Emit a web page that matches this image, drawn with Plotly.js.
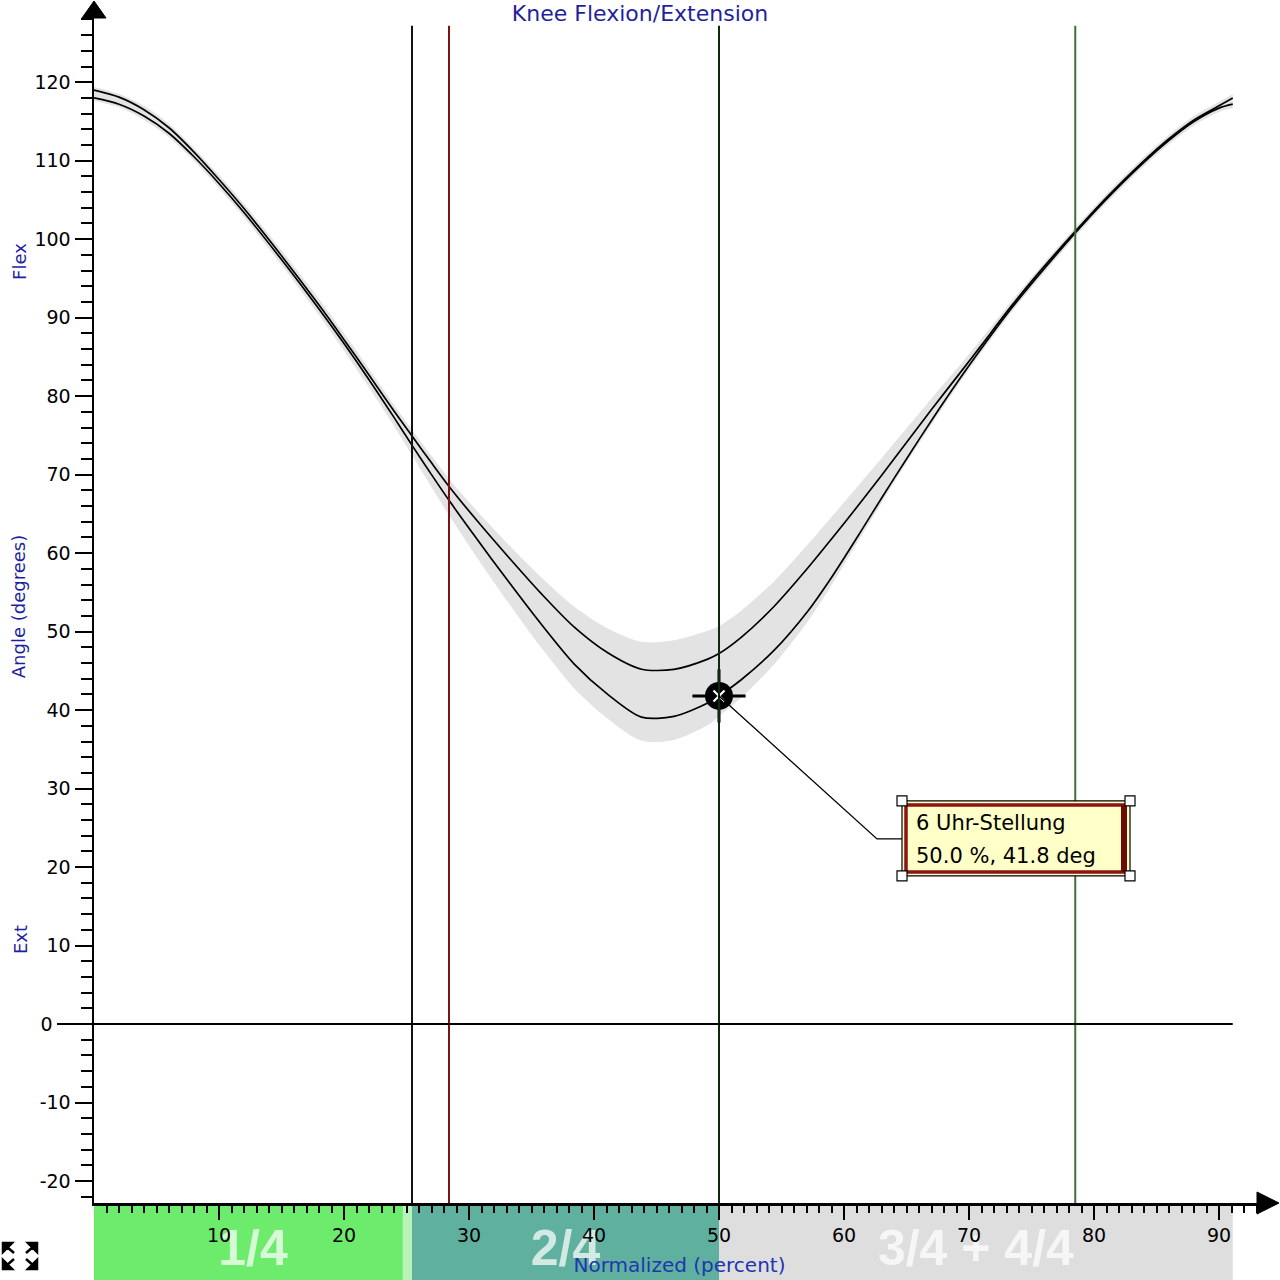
<!DOCTYPE html>
<html><head><meta charset="utf-8">
<script src="https://cdn.plot.ly/plotly-3.0.1.min.js"></script>
<style>html,body{margin:0;padding:0;background:#fff}#chart{width:1280px;height:1280px}</style>
</head><body><div id="chart"></div>
<script>
// ---------------- data ----------------
const pct = [0,2,4,6,8,10,12,15,18,20,22,24,25.5,27,28.5,30.4,33.1,35.8,38.4,41.1,43.8,46.4,49.1,50,51.8,54.4,57.1,59,61.4,63,65,67,69.3,71,73.4,76,78.5,81,83.8,86,88,90,91.1];
const kneeUpper = [119.0,118.1,116.5,114.2,111.1,107.6,103.9,97.9,91.6,87.2,82.7,78.1,74.8,71.5,68.3,64.6,59.6,54.8,50.6,47.3,45.2,45.2,46.5,47.2,49.3,53.2,58.1,61.8,66.6,69.9,74.1,78.3,83.0,86.5,91.5,96.5,101.0,105.3,109.7,112.8,115.2,117.0,118.0];
const kneeLower = [118.0,117.2,115.7,113.5,110.5,107.1,103.4,97.4,91.1,86.7,82.1,77.3,73.6,70.0,66.5,62.3,56.5,50.9,45.9,42.0,39.1,39.2,40.9,41.8,43.9,47.6,52.6,56.9,62.9,67.0,72.0,76.9,82.3,86.1,91.2,96.2,100.8,105.1,109.5,112.6,115.0,116.7,117.2];
const bandHigh = [119.4,118.5,117.0,114.7,111.6,108.2,104.5,98.6,92.4,88.0,83.5,78.9,75.6,72.4,69.3,65.8,61.2,56.9,53.2,50.4,48.7,48.9,50.1,50.7,52.7,56.4,61.1,64.6,69.1,72.1,75.9,79.7,84.0,87.3,92.1,97.0,101.5,105.8,110.2,113.3,115.7,117.5,118.5];
const bandLow = [117.6,116.8,115.2,113.0,110.0,106.5,102.8,96.7,90.3,85.8,81.1,76.2,72.3,68.4,64.6,60.0,53.8,47.9,42.8,38.9,36.1,36.2,38.1,39.2,41.6,45.8,51.3,55.9,62.2,66.4,71.5,76.4,81.8,85.6,90.7,95.7,100.3,104.6,109.0,112.1,114.5,116.2,116.7];
const eventLines = [25.44, 28.4, 50.0, 78.5];
const phaseStart = [0, 25.44, 50.0];
const phaseEnd = [25.44, 50.0, 91.1];
const phaseLabels = ['1/4', '2/4', '3/4 + 4/4'];
const cursorX = 50.0;
const cursorY = 41.8;
const cursorName = '6 Uhr-Stellung';
const yTickVals = [-20,-10,0,10,20,30,40,50,60,70,80,90,100,110,120];
const xTickVals = [10,20,30,40,50,60,70,80,90];

// ---------------- styles ----------------
const X_RANGE = [0, 93.68];
const Y_RANGE = [-22.8, 129.2];
const PLOT_H = 1193;
const eventColors = ['#111111', '#7a1414', '#0e2a0e', '#3f6e3f'];
const phaseColors = ['#6deb6d', '#5fb09e', '#dedede'];
const TXT = 'DejaVu Sans, Verdana, sans-serif';
const BLUE = '#1f1f9e';
const NB = '\u00a0';

const yMinor = []; for (let v = -22; v <= 128; v += 2) if (v % 10 !== 0) yMinor.push(v);
const xMinor = []; for (let v = 1; v <= 93; v += 1) if (v % 10 !== 0) xMinor.push(v);
const yTickText = yTickVals.map(v => v === 0 ? '0' + NB + NB + NB : String(v));

const traces = [
  {x: pct, y: bandLow, mode: 'lines', line: {width: 0, color: 'rgba(0,0,0,0)', shape: 'spline', smoothing: 0.8}, hoverinfo: 'skip', showlegend: false},
  {x: pct, y: bandHigh, mode: 'lines', line: {width: 0, color: 'rgba(0,0,0,0)', shape: 'spline', smoothing: 0.8}, fill: 'tonexty', fillcolor: '#e3e3e3', hoverinfo: 'skip', showlegend: false},
  {x: pct, y: kneeUpper, mode: 'lines', line: {color: '#000', width: 1.7, shape: 'spline', smoothing: 0.8}, showlegend: false, name: 'upper'},
  {x: pct, y: kneeLower, mode: 'lines', line: {color: '#000', width: 1.7, shape: 'spline', smoothing: 0.8}, showlegend: false, name: 'lower'},
  {x: [cursorX], y: [cursorY], mode: 'markers', marker: {symbol: 'cross-thin-open', size: 38, color: '#000', line: {width: 3, color: '#000'}}, showlegend: false, hoverinfo: 'skip'},
  {x: [cursorX], y: [cursorY], mode: 'markers', marker: {symbol: 'circle', size: 28, color: '#000', line: {width: 0}}, showlegend: false, hoverinfo: 'skip'},
  {x: [cursorX], y: [cursorY], mode: 'markers', marker: {symbol: 'x-thin-open', size: 11, color: '#fff', line: {width: 2.2, color: '#fff'}}, showlegend: false, hoverinfo: 'skip'}
];

const shapes = [];
// phase bands below the x axis
phaseStart.forEach((s, i) => {
  shapes.push({type: 'rect', xref: 'x', yref: 'paper', x0: s, x1: phaseEnd[i], y0: -77 / PLOT_H, y1: -2 / PLOT_H,
    fillcolor: phaseColors[i], line: {width: 0}, layer: 'below',
    label: {text: phaseLabels[i], textposition: 'middle center',
      font: {family: 'Liberation Sans, Arial, sans-serif', size: 50, weight: 'bold', color: 'rgba(255,255,255,0.72)'}}});
});
shapes.push({type: 'rect', xref: 'x', yref: 'paper', x0: 24.7, x1: 25.44, y0: -77 / PLOT_H, y1: -2 / PLOT_H,
  fillcolor: '#b9f3b9', line: {width: 0}, layer: 'below'});
// event lines
eventLines.forEach((v, i) => {
  shapes.push({type: 'line', xref: 'x', yref: 'y', x0: v, x1: v, y0: Y_RANGE[0], y1: 127.2,
    line: {color: eventColors[i], width: 2}, layer: 'above'});
});
// zero line
shapes.push({type: 'line', xref: 'paper', yref: 'y', x0: -37 / 1171, x1: pct[pct.length - 1] / X_RANGE[1], y0: 0, y1: 0,
  line: {color: '#000', width: 2}, layer: 'above'});
// axis arrows
shapes.push({type: 'path', xref: 'paper', yref: 'paper', xsizemode: 'pixel', ysizemode: 'pixel', xanchor: 0, yanchor: 1,
  path: 'M-12,-8 L0,9 L12,-8 Z', fillcolor: '#000', line: {color: '#000', width: 1}, layer: 'above'});
shapes.push({type: 'path', xref: 'paper', yref: 'paper', xsizemode: 'pixel', ysizemode: 'pixel', xanchor: 1, yanchor: 0,
  path: 'M-8,11 L14,0 L-8,-11 Z', fillcolor: '#000', line: {color: '#000', width: 1}, layer: 'above'});
// callout connector and box (pixel offsets from the cursor point)
const pxShape = (o) => Object.assign({xref: 'x', yref: 'y', xsizemode: 'pixel', ysizemode: 'pixel', xanchor: cursorX, yanchor: cursorY, layer: 'above'}, o);
shapes.push(pxShape({type: 'path', path: 'M0,0 L158,-143 L183,-143', line: {color: '#000', width: 1.3}}));
shapes.push(pxShape({type: 'rect', x0: 183, x1: 411, y0: -180, y1: -105, fillcolor: '#ffffc8', line: {color: '#000', width: 1.2}}));
shapes.push(pxShape({type: 'rect', x0: 187, x1: 405, y0: -176, y1: -109, fillcolor: 'rgba(0,0,0,0)', line: {color: '#8b1414', width: 3.5}}));
shapes.push(pxShape({type: 'line', x0: 405, x1: 405, y0: -176, y1: -109, line: {color: '#6e0a0a', width: 6}}));
[[183, -105], [411, -105], [183, -180], [411, -180]].forEach(([cx, cy]) => {
  shapes.push(pxShape({type: 'rect', x0: cx - 5, x1: cx + 5, y0: cy - 5, y1: cy + 5, fillcolor: '#fff', line: {color: '#000', width: 1.2}}));
});
// expand icon bottom-left
shapes.push({type: 'path', xref: 'paper', yref: 'paper', xsizemode: 'pixel', ysizemode: 'pixel',
  xanchor: (20 - 94) / 1171, yanchor: (1203 - 1256) / PLOT_H,
  path: 'M-17,13 L-8,13 L-17,4 Z M-14,10 L-6,3 M17,13 L8,13 L17,4 Z M14,10 L6,3 M-17,-13 L-8,-13 L-17,-4 Z M-14,-10 L-6,-3 M17,-13 L8,-13 L17,-4 Z M14,-10 L6,-3',
  fillcolor: '#000', line: {color: '#000', width: 2.5}, layer: 'above'});

const annotations = [
  {xref: 'paper', yref: 'y', x: (20 - 94) / 1171, y: 97.1, text: 'Flex', textangle: -90, showarrow: false,
    xanchor: 'center', yanchor: 'middle', font: {family: TXT, size: 18, color: BLUE}},
  {xref: 'paper', yref: 'y', x: (20 - 94) / 1171, y: 10.7, text: 'Ext', textangle: -90, showarrow: false,
    xanchor: 'center', yanchor: 'middle', font: {family: TXT, size: 18, color: BLUE}},
  {xref: 'x', yref: 'y', x: cursorX, y: cursorY, xshift: 195, yshift: -127, xanchor: 'left', yanchor: 'middle',
    text: cursorName, showarrow: false, font: {family: TXT, size: 21, color: '#000'}},
  {xref: 'x', yref: 'y', x: cursorX, y: cursorY, xshift: 195, yshift: -160, xanchor: 'left', yanchor: 'middle',
    text: cursorX.toFixed(1) + ' %, ' + cursorY.toFixed(1) + ' deg', showarrow: false, font: {family: TXT, size: 21, color: '#000'}}
];

const layout = {
  width: 1280, height: 1280,
  margin: {l: 94, r: 15, t: 10, b: 77, pad: 0},
  paper_bgcolor: '#fff', plot_bgcolor: '#fff',
  showlegend: false,
  title: {text: 'Knee Flexion/Extension', font: {family: TXT, size: 22, color: BLUE},
    x: 0.5, xref: 'container', xanchor: 'center', y: 1 - 13 / 1280, yref: 'container', yanchor: 'middle'},
  xaxis: {range: X_RANGE, showgrid: false, zeroline: false, showline: true, linecolor: '#000', linewidth: 2.5,
    ticks: 'outside', ticklen: 14, tickwidth: 2, tickcolor: '#000', tickmode: 'array', tickvals: xTickVals,
    ticktext: xTickVals.map(String),
    minor: {tickmode: 'array', tickvals: xMinor, ticks: 'outside', ticklen: 7, tickwidth: 2, tickcolor: '#000'},
    tickfont: {family: TXT, size: 19, color: '#000'},
    title: {text: 'Normalized (percent)', font: {family: TXT, size: 20, color: '#2036b0'}, standoff: 13}},
  yaxis: {range: Y_RANGE, showgrid: false, zeroline: false, showline: true, linecolor: '#000', linewidth: 2.5,
    ticks: 'outside', ticklen: 17, tickwidth: 2, tickcolor: '#000', tickmode: 'array', tickvals: yTickVals,
    ticktext: yTickText,
    minor: {tickmode: 'array', tickvals: yMinor, ticks: 'outside', ticklen: 11, tickwidth: 2, tickcolor: '#000'},
    tickfont: {family: TXT, size: 19, color: '#000'},
    title: {text: 'Angle (degrees)', font: {family: TXT, size: 18, color: BLUE}, standoff: 4}},
  shapes: shapes,
  annotations: annotations
};

Plotly.newPlot('chart', traces, layout, {displayModeBar: false, staticPlot: true});
</script>
</body></html>
